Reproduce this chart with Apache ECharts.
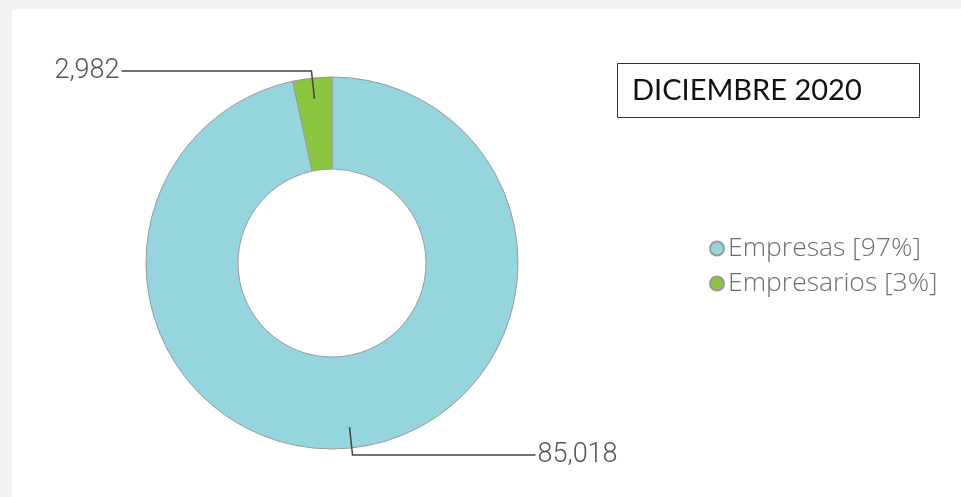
<!DOCTYPE html>
<html>
<head>
<meta charset="utf-8">
<script src="https://cdn.jsdelivr.net/npm/echarts@6/dist/echarts.min.js"></script>
<style>
html,body{margin:0;padding:0;background:#f2f2f0;}
#chart{width:961px;height:497px;}
</style>
</head>
<body>
<div id="chart"></div>
<script>
const categories = ['Empresas', 'Empresarios'];
const values = [85018, 2982];
const colors = ['#95d5dd', '#8cc63f'];
const titleText = 'DICIEMBRE 2020';

const total = values.reduce((a, b) => a + b, 0);
const pct = {};
categories.forEach((c, i) => { pct[c] = Math.round(values[i] / total * 100); });

const chart = echarts.init(document.getElementById('chart'), null, {renderer: 'canvas'});
const labelFont = 'Roboto';
const pieBase = {
  type: 'pie',
  center: [332, 263],
  radius: [94, 186],
  startAngle: 90,
  clockwise: true,
  silent: true
};
chart.setOption({
  backgroundColor: '#f2f2f0',
  animation: false,
  graphic: [
    {type: 'rect', z: -10, silent: true, shape: {x: 12, y: 9, width: 949, height: 488}, style: {fill: '#ffffff'}},
    {type: 'rect', z: 10, silent: true, shape: {x: 617.5, y: 63.5, width: 302, height: 54}, style: {fill: '#ffffff', stroke: '#333', lineWidth: 1}},
    {type: 'text', z: 11, silent: true, x: 632, y: 91, style: {text: titleText, fill: '#111', font: '29px Lato', textVerticalAlign: 'middle'}}
  ],
  legend: {
    orient: 'vertical',
    left: 704,
    top: 230,
    icon: 'circle',
    itemWidth: 14,
    itemHeight: 14,
    itemGap: 8,
    data: categories,
    formatter: name => name + ' [' + pct[name] + '%]',
    textStyle: {fontFamily: 'Open Sans', fontWeight: 300, fontSize: 26.5, color: '#6e6e6e', padding: [0, 0, 0, -1]}
  },
  series: [
    Object.assign({}, pieBase, {
      z: 2,
      itemStyle: {borderColor: '#9a9a9a', borderWidth: 1},
      label: {show: false},
      labelLine: {show: false},
      data: categories.map((c, i) => ({name: c, value: values[i], itemStyle: {color: colors[i]}}))
    }),
    Object.assign({}, pieBase, {
      z: 5,
      legendHoverLink: false,
      itemStyle: {color: 'rgba(0,0,0,0)', borderWidth: 0},
      label: {
        show: true,
        position: 'outside',
        fontFamily: labelFont,
        fontWeight: 300,
        fontSize: 27,
        color: '#555',
        distanceToLabelLine: 2,
        formatter: p => p.value.toLocaleString('en-US')
      },
      labelLine: {show: true, length: 7, length2: 183, lineStyle: {color: '#444', width: 1.5}},
      labelLayout: function (params) {
        const p = params.labelLinePoints;
        if (!p) return {};
        const dx = p[1][0] - p[0][0], dy = p[1][1] - p[0][1];
        const len = Math.hypot(dx, dy) || 1;
        const k = 21 / len;
        const q = [[p[0][0] - dx * k, p[0][1] - dy * k], p[1].slice(), p[2].slice()];
        return {labelLinePoints: q};
      },
      data: categories.map((c, i) => ({
        name: c + ' ',
        value: values[i],
        labelLine: i === 1 ? {length2: 190} : {length2: 183}
      }))
    })
  ]
});
</script>
</body>
</html>
